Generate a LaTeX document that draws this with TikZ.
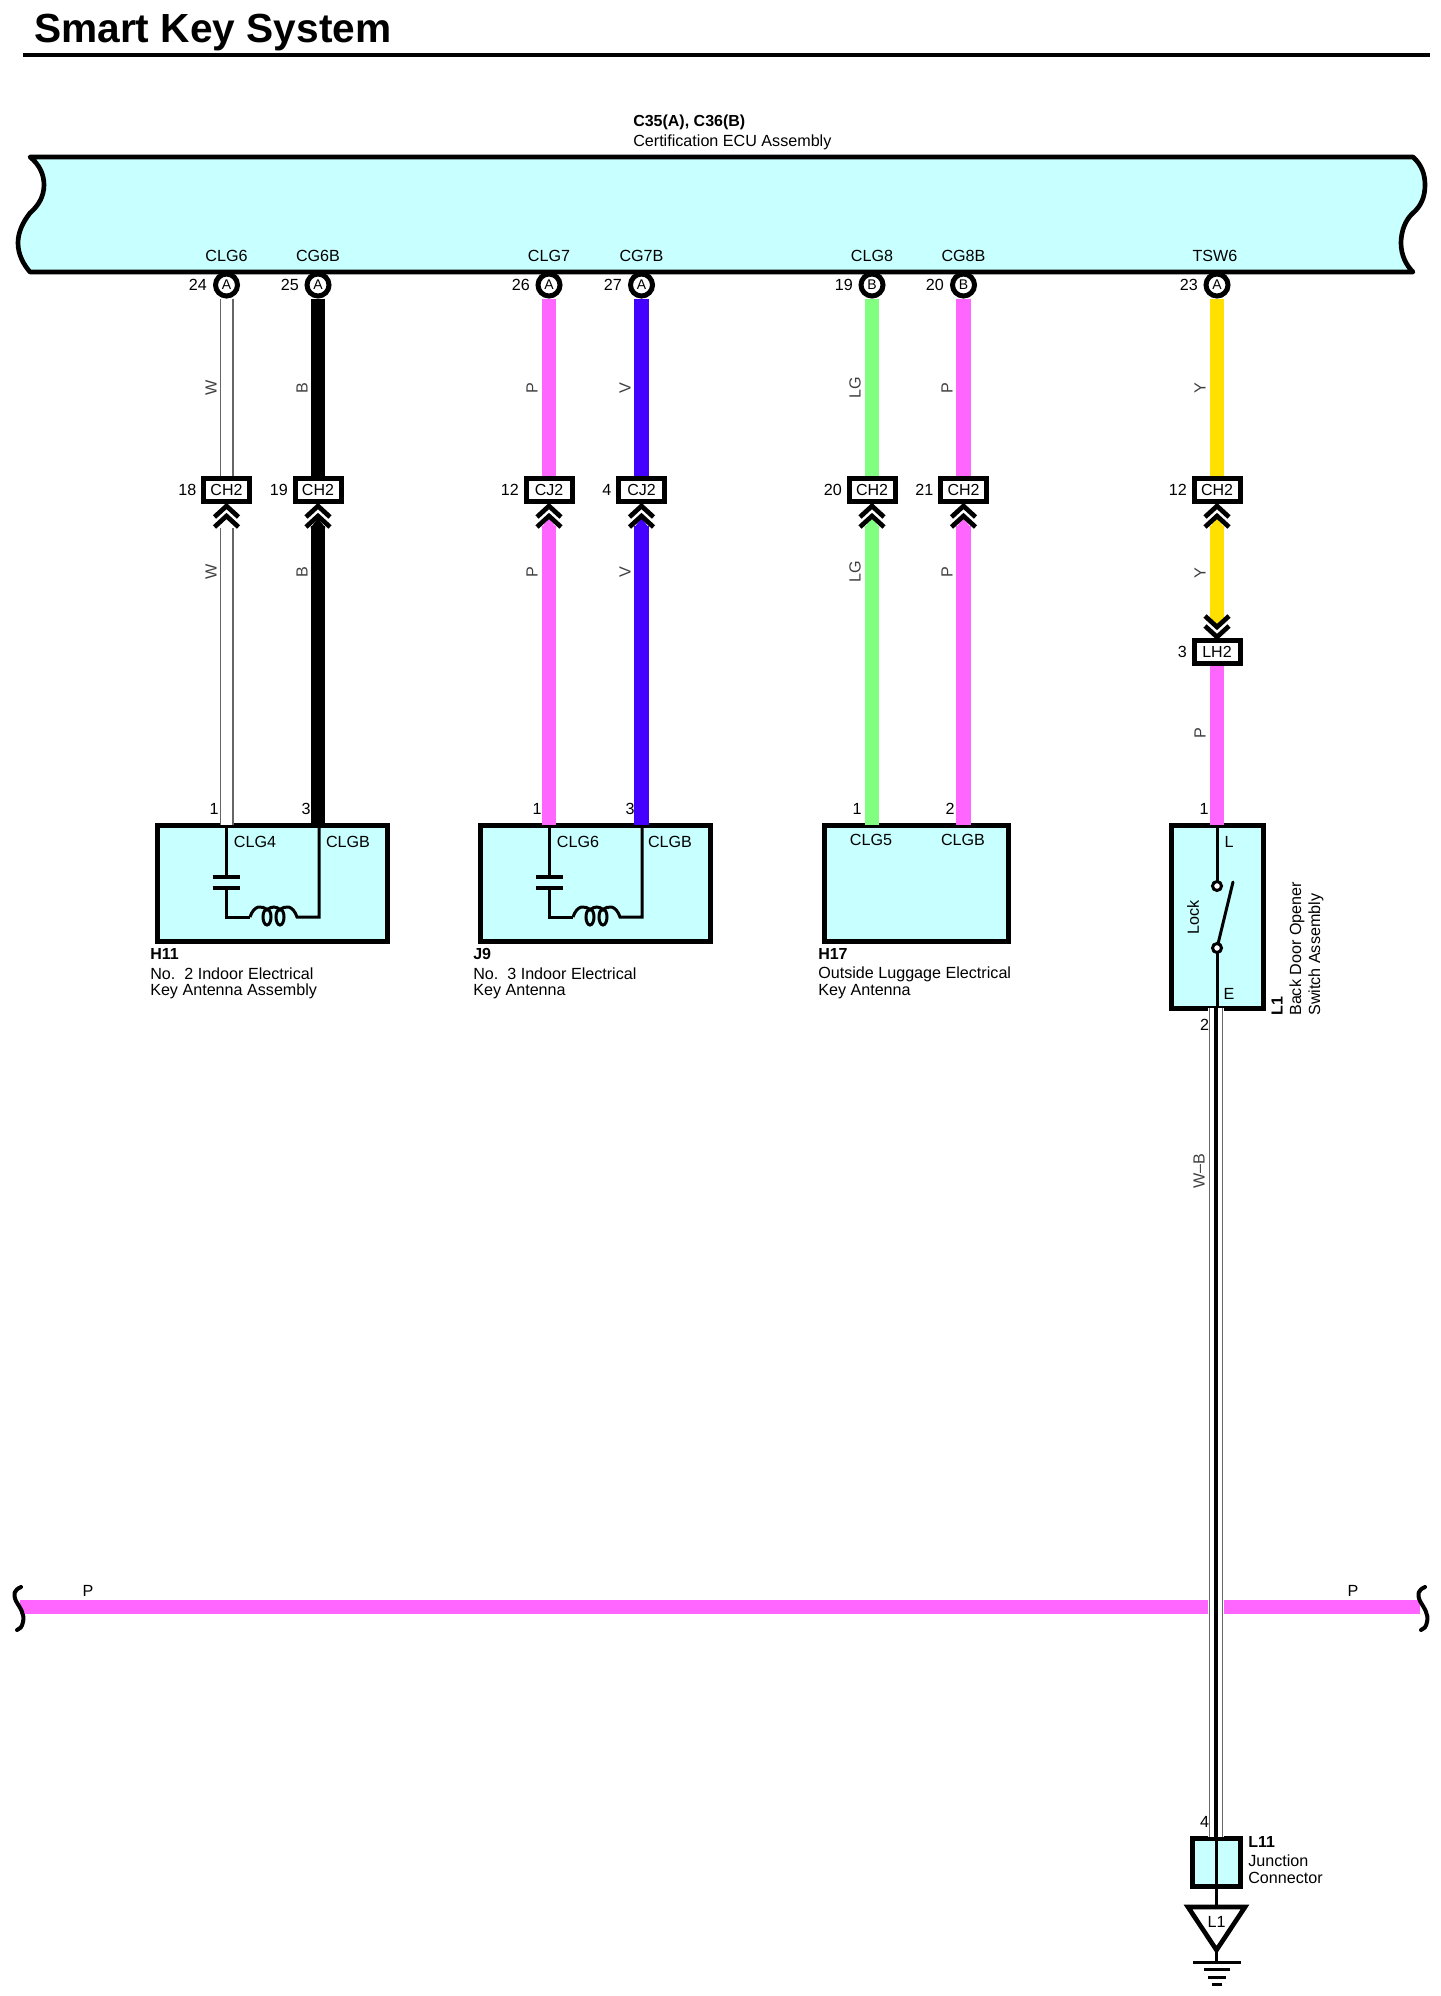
\documentclass[tikz,border=0pt]{standalone}
\usepackage{fontspec}
\setmainfont{Liberation Sans}
\definecolor{ecucyan}{HTML}{C8FFFF}
\definecolor{wirep}{HTML}{FF66FF}
\definecolor{wirev}{HTML}{4400FF}
\definecolor{wirelg}{HTML}{80FF80}
\definecolor{wirey}{HTML}{FFE000}
\tikzset{
  lbl/.style={font=\fontsize{12.1}{13}\selectfont,inner sep=0pt},
  lblb/.style={lbl,font=\fontsize{12}{13}\selectfont\bfseries},
  vlbl/.style={lbl,rotate=90,text=black!75},
  pin/.style={circle,draw,fill=white,line width=3.75pt,minimum size=16.5pt,inner sep=0pt,font=\fontsize{10.5}{12}\selectfont},
  conbox/.style={rectangle,draw,fill=white,line width=3.75pt,minimum width=34.5pt,minimum height=17.5pt,inner sep=0pt,font=\fontsize{12}{13}\selectfont},
  compbox/.style={rectangle,draw,fill=ecucyan,line width=3.75pt,inner sep=0pt},
  wirew/.style={draw=black!60,line width=10.5pt,postaction={draw=white,line width=8.7pt}},
  wirefat/.style={line width=11pt},
  inner/.style={line width=2.25pt},
  chev/.style={line width=3.5pt,miter limit=10}
}
\begin{document}
\begin{tikzpicture}[x=0.75pt,y=-0.75pt]
  \useasboundingbox (0,0) rectangle (1440,1996);

  % title
  \node[anchor=west,inner sep=0pt,font=\fontsize{30.5}{36}\selectfont\bfseries] (title) at (34,33) {Smart Key System};
  \draw[line width=3.5pt] (23,55) -- (1430,55);

  % ecu
  \node[lblb,anchor=west] (ecuid) at (633,122) {C35(A), C36(B)};
  \node[lbl,anchor=west] (ecuname) at (633,142) {Certification ECU Assembly};
  \draw[fill=ecucyan,line width=3.5pt,line join=round] (30,157) -- (1413,157)
    .. controls (1422,165) and (1425,175) .. (1425,185)
    .. controls (1425,197) and (1421,206) .. (1413,213)
    .. controls (1405,220) and (1401,232) .. (1401,243)
    .. controls (1401,255) and (1406,265) .. (1413,272) -- (30,272)
    .. controls (24,265) and (18,255) .. (18,243)
    .. controls (18,232) and (23,222) .. (30,213)
    .. controls (38,206) and (44,197) .. (44,185)
    .. controls (44,175) and (40,165) .. (30,157) -- cycle;

  \node[lbl] (tclg6) at (226.5,256) {CLG6};
  \node[lbl] (tcg6b) at (318,256) {CG6B};
  \node[lbl] (tclg7) at (549,256) {CLG7};
  \node[lbl] (tcg7b) at (641.5,256) {CG7B};
  \node[lbl] (tclg8) at (872,256) {CLG8};
  \node[lbl] (tcg8b) at (963.5,256) {CG8B};
  \node[lbl] (ttsw6) at (1215,256) {TSW6};

  % pins
  \node[pin] (p24) at (226.5,285) {A};
  \node[pin] (p25) at (318,285) {A};
  \node[pin] (p26) at (549,285) {A};
  \node[pin] (p27) at (641.5,285) {A};
  \node[pin] (p19) at (872,285) {B};
  \node[pin] (p20) at (963.5,285) {B};
  \node[pin] (p23) at (1217,285) {A};
  \node[lbl,anchor=east] (n24) at (207,285) {24};
  \node[lbl,anchor=east] (n25) at (299,285) {25};
  \node[lbl,anchor=east] (n26) at (530,285) {26};
  \node[lbl,anchor=east] (n27) at (622,285) {27};
  \node[lbl,anchor=east] (n19) at (853,285) {19};
  \node[lbl,anchor=east] (n20) at (944,285) {20};
  \node[lbl,anchor=east] (n23) at (1198,285) {23};

  % inline connectors
  \node[conbox] (c18) at (226.5,490) {CH2};
  \node[conbox] (c19) at (318,490) {CH2};
  \node[conbox] (c12) at (549,490) {CJ2};
  \node[conbox] (c4) at (641.5,490) {CJ2};
  \node[conbox] (c20) at (872,490) {CH2};
  \node[conbox] (c21) at (963.5,490) {CH2};
  \node[conbox] (cy12) at (1217,490) {CH2};
  \node[conbox] (lh2) at (1217,652) {LH2};
  \node[lbl,anchor=east] (n18) at (196.5,490) {18};
  \node[lbl,anchor=east] (n19b) at (288,490) {19};
  \node[lbl,anchor=east] (n12) at (519,490) {12};
  \node[lbl,anchor=east] (n4) at (611.5,490) {4};
  \node[lbl,anchor=east] (n20b) at (842,490) {20};
  \node[lbl,anchor=east] (n21) at (933.5,490) {21};
  \node[lbl,anchor=east] (n12b) at (1187,490) {12};
  \node[lbl,anchor=east] (n3) at (1187,652) {3};

  % components
  \node[compbox,minimum width=172.5pt,minimum height=87pt] (h11) at (272.5,883) {};
  \node[compbox,minimum width=172.5pt,minimum height=87pt] (j9) at (595,883) {};
  \node[compbox,minimum width=138pt,minimum height=87pt] (h17) at (916.5,883) {};
  \node[compbox,minimum width=69pt,minimum height=137.25pt] (l1) at (1217,916.5) {};
  \node[compbox,minimum width=36pt,minimum height=36pt] (l11) at (1216,1862) {};

  \coordinate (h11a) at (226.5,825);
  \coordinate (h11b) at (318,825);
  \coordinate (j9a) at (549,825);
  \coordinate (j9b) at (641.5,825);
  \coordinate (h17a) at (872,825);
  \coordinate (h17b) at (963.5,825);
  \coordinate (l1l) at (1217,825);
  \coordinate (l1e) at (1216,1008);
  \coordinate (l11t) at (1216,1837);
  \coordinate (l11b) at (1216,1887);
  \coordinate (tri) at (1216,1907);
  \coordinate (buswest) at (20,1607);
  \coordinate (buseast) at (1420,1607);

  % wires
  \draw[wirew] (p24) -- (c18);
  \draw[wirefat] (p25) -- (c19);
  \draw[wirefat,wirep] (p26) -- (c12);
  \draw[wirefat,wirev] (p27) -- (c4);
  \draw[wirefat,wirelg] (p19) -- (c20);
  \draw[wirefat,wirep] (p20) -- (c21);
  \draw[wirefat,wirey] (p23) -- (cy12);

  \draw[wirew,shorten <=18pt] (c18) -- (h11a);
  \draw[wirefat,shorten <=16pt] (c19) -- (h11b);
  \draw[wirefat,wirep,shorten <=16pt] (c12) -- (j9a);
  \draw[wirefat,wirev,shorten <=16pt] (c4) -- (j9b);
  \draw[wirefat,wirelg,shorten <=16pt] (c20) -- (h17a);
  \draw[wirefat,wirep,shorten <=16pt] (c21) -- (h17b);
  \draw[wirefat,wirey,shorten <=16pt,shorten >=16pt] (cy12) -- (lh2);
  \draw[wirefat,wirep] (lh2) -- (l1l);

  % bus and crossing
  \draw[wirefat,wirep] (buswest) -- (buseast);
  \draw[line width=3pt,line cap=round] (21,1587) .. controls (14,1590) and (13,1594) .. (16,1601) .. controls (20,1608) and (25,1614) .. (23,1622) .. controls (22,1627) and (20,1629) .. (17,1630);
  \draw[line width=3pt,line cap=round] (1425,1587) .. controls (1418,1590) and (1417,1594) .. (1420,1601) .. controls (1424,1608) and (1429,1614) .. (1427,1622) .. controls (1426,1627) and (1424,1629) .. (1421,1630);
  \draw[white,line width=12pt] (l1e) -- (l11t);
  \draw[wirew] (l1e) -- (l11t);
  \draw[line width=3pt] (l1e) -- (l11t);

  % chevrons
  \foreach \wx/\wc in {318/black,549/wirep,641.5/wirev,872/wirelg,963.5/wirep,1217/wirey}
    \fill[\wc] (\wx-7.5,528) -- (\wx,518) -- (\wx+7.5,528) -- cycle;
  \fill[wirey] (1209.5,617) -- (1217,626) -- (1224.5,617) -- cycle;
  \foreach \wx in {226.5,318,549,641.5,872,963.5,1217}{
    \draw[chev] (\wx-12,517) -- (\wx,506) -- (\wx+12,517);
    \draw[chev] (\wx-12,527) -- (\wx,516) -- (\wx+12,527);
  }
  \draw[chev] (1205,616) -- (1217,627) -- (1229,616);
  \draw[chev] (1205,626) -- (1217,637) -- (1229,626);

  % wire colour labels
  \node[vlbl] (w1) at (211,388) {W};
  \node[vlbl] (w2) at (211,572) {W};
  \node[vlbl] (b1) at (302,388) {B};
  \node[vlbl] (b2) at (302,572) {B};
  \node[vlbl] (p1) at (532,388) {P};
  \node[vlbl] (p2) at (532,572) {P};
  \node[vlbl] (v1) at (625,388) {V};
  \node[vlbl] (v2) at (625,572) {V};
  \node[vlbl] (lg1) at (855,388) {LG};
  \node[vlbl] (lg2) at (855,572) {LG};
  \node[vlbl] (p3) at (947,388) {P};
  \node[vlbl] (p4) at (947,572) {P};
  \node[vlbl] (y1) at (1200,388) {Y};
  \node[vlbl] (y2) at (1200,573) {Y};
  \node[vlbl] (p5) at (1200,733) {P};
  \node[vlbl] (wb) at (1199,1171) {W--B};
  \node[lbl] (pw) at (88,1591) {P};
  \node[lbl] (pe) at (1353,1591) {P};

  % pin numbers at components
  \node[lbl] (h1) at (214,809) {1};
  \node[lbl] (h3) at (306,809) {3};
  \node[lbl] (j1) at (537,809) {1};
  \node[lbl] (j3) at (630,809) {3};
  \node[lbl] (k1) at (857,809) {1};
  \node[lbl] (k2) at (950,809) {2};
  \node[lbl] (s1) at (1204,809) {1};
  \node[lbl] (s2) at (1204.5,1025) {2};
  \node[lbl] (t4) at (1204.5,1822) {4};

  % antenna circuits
  \foreach \sx in {0,323}{
    \begin{scope}[shift={(\sx,0)}]
      \draw[inner] (226,825) -- (226,877);
      \draw[inner] (226,888) -- (226,917) -- (250,917);
      \draw[line width=3pt] (212.5,877) -- (239.5,877);
      \draw[line width=3pt] (212.5,888) -- (239.5,888);
      \draw[inner] (250,917) .. controls (254,905) and (262,905) .. (267,910)
        .. controls (271,906) and (277,906) .. (280,910)
        .. controls (285,905) and (293,905) .. (297,917) -- (319,917) -- (319,825);
      \draw[inner] (267,917) ellipse (4 and 8);
      \draw[inner] (280,917) ellipse (4 and 8);
    \end{scope}
  }
  \node[lbl] (g4) at (255,842) {CLG4};
  \node[lbl] (gb1) at (348,842) {CLGB};
  \node[lbl] (g6) at (578,842) {CLG6};
  \node[lbl] (gb2) at (670,842) {CLGB};
  \node[lbl] (g5) at (871,840) {CLG5};
  \node[lbl] (gb3) at (963,840) {CLGB};

  \node[lblb,anchor=west] (h11id) at (150,954) {H11};
  \node[lbl,anchor=west] (h11n1) at (150,974) {No.\ \ 2 Indoor Electrical};
  \node[lbl,anchor=west] (h11n2) at (150,991.5) {Key Antenna Assembly};
  \node[lblb,anchor=west] (j9id) at (473,954) {J9};
  \node[lbl,anchor=west] (j9n1) at (473,974) {No.\ \ 3 Indoor Electrical};
  \node[lbl,anchor=west] (j9n2) at (473,991.5) {Key Antenna};
  \node[lblb,anchor=west] (h17id) at (818,954) {H17};
  \node[lbl,anchor=west] (h17n1) at (818,974) {Outside Luggage Electrical};
  \node[lbl,anchor=west] (h17n2) at (818,991.5) {Key Antenna};

  % switch
  \draw[inner] (l1l) -- (1217,881);
  \draw[inner] (1217,953) -- (1217,1008);
  \draw[inner,line cap=round] (1217,948) -- (1233,882);
  \filldraw[fill=white,draw=black,line width=2.25pt] (1217,886) circle (4.5);
  \filldraw[fill=white,draw=black,line width=2.25pt] (1217,948) circle (4.5);
  \node[lbl,rotate=90] (lock) at (1193,917) {Lock};
  \node[lbl] (tl) at (1229,842) {L};
  \node[lbl] (te) at (1229,994) {E};
  \node[lblb,rotate=90,anchor=west] (l1id) at (1277,1016) {L1};
  \node[lbl,rotate=90,anchor=west] (l1n1) at (1297,1016) {Back Door Opener};
  \node[lbl,rotate=90,anchor=west] (l1n2) at (1316,1016) {Switch Assembly};

  % junction and ground
  \draw[inner] (l11t) -- (l11b);
  \draw[inner] (l11) -- (tri);
  \node[lblb,anchor=west] (l11id) at (1248,1842) {L11};
  \node[lbl,anchor=west] (l11n1) at (1248,1861) {Junction};
  \node[lbl,anchor=west] (l11n2) at (1248,1878) {Connector};
  \draw[line width=3.5pt,fill=white] (1188,1907) -- (1245,1907) -- (1216.5,1950) -- cycle;
  \node[lbl] (gnd) at (1216.5,1922) {L1};
  \draw[inner] (1216.5,1950) -- (1216.5,1962);
  \draw[inner] (1193,1962) -- (1241,1962);
  \draw[inner] (1204,1969) -- (1230,1969);
  \draw[inner] (1208,1977) -- (1226,1977);
  \draw[inner] (1212,1984) -- (1222,1984);
\end{tikzpicture}
\end{document}
